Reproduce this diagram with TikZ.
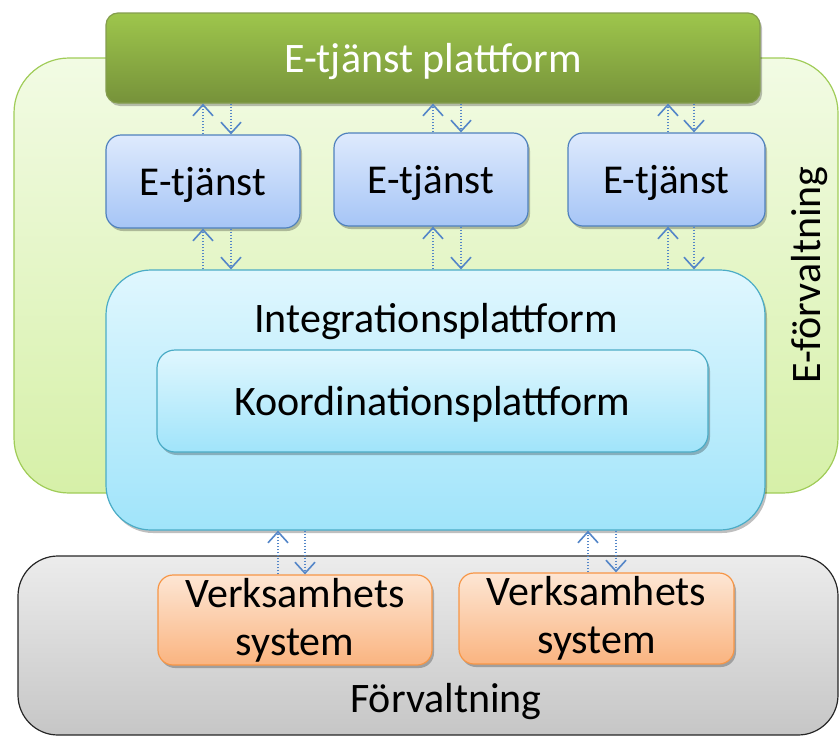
\documentclass[tikz,border=0pt]{standalone}
\usepackage{fontspec}
\setmainfont{Carlito}
\usetikzlibrary{arrows.meta,shadows}
\definecolor{gbarT}{RGB}{158,198,76}
\definecolor{gbarB}{RGB}{118,146,58}
\definecolor{goutT}{RGB}{242,251,228}
\definecolor{goutB}{RGB}{214,240,168}
\definecolor{goutD}{RGB}{160,204,88}
\definecolor{bluT}{RGB}{222,234,253}
\definecolor{bluB}{RGB}{166,197,246}
\definecolor{bluD}{RGB}{79,129,189}
\definecolor{cyaT}{RGB}{224,247,254}
\definecolor{cyaB}{RGB}{160,228,250}
\definecolor{cyaD}{RGB}{75,172,198}
\definecolor{gryT}{RGB}{236,236,236}
\definecolor{gryB}{RGB}{198,198,198}
\definecolor{oraT}{RGB}{253,230,212}
\definecolor{oraB}{RGB}{250,180,128}
\definecolor{oraD}{RGB}{247,150,70}
\definecolor{arrC}{RGB}{84,134,200}
\tikzset{
  box/.style={rectangle,inner sep=0pt,line width=1.2pt,align=center},
  shad/.style={drop shadow={shadow xshift=2pt,shadow yshift=-3pt,opacity=0.25,fill=black}},
  gbar/.style={box,rounded corners=12pt,top color=gbarT,bottom color=gbarB,draw=gbarB!90!white,text=white,shad},
  gout/.style={box,rounded corners=55pt,top color=goutT,bottom color=goutB,draw=goutD},
  etj/.style={box,rounded corners=15pt,top color=bluT,bottom color=bluB,draw=bluD,shad},
  intg/.style={box,rounded corners=45pt,top color=cyaT,bottom color=cyaB,draw=cyaD,shad},
  koor/.style={box,rounded corners=18pt,top color=cyaT,bottom color=cyaB,draw=cyaD,shad},
  forv/.style={box,rounded corners=40pt,top color=gryT,bottom color=gryB,draw=black!85},
  verk/.style={box,rounded corners=15pt,top color=oraT,bottom color=oraB,draw=oraD,shad},
  arr/.style={draw=arrC,line width=1.5pt,dash pattern=on 1.5pt off 1.5pt,-{Straight Barb[length=11pt,width=20pt,line width=1.6pt]}},
  bigtxt/.style={font=\fontsize{42}{48}\selectfont},
  midtxt/.style={font=\fontsize{41}{48}\selectfont},
  flat/.style={text depth=0pt},
}
\begin{document}
\begin{tikzpicture}[x=1pt,y=-1pt]
\useasboundingbox (0,0) rectangle (839,737);
% outer E-förvaltning
\node[gout,minimum width=824pt,minimum height=435pt] (eforv) at (426,275.5) {};
\node[rotate=90,bigtxt,flat] (eforvtxt) at (806,275) {E-förvaltning};
% Förvaltning
\node[forv,minimum width=820pt,minimum height=179pt] (forv) at (428,645.5) {};
\node[bigtxt,flat] (forvtxt) at (446,698) {Förvaltning};
% top bar
\node[gbar,minimum width=654pt,minimum height=90pt,bigtxt,flat] (top) at (433,58) {E-tjänst plattform};
% E-tjänst boxes
\node[etj,minimum width=194pt,minimum height=93pt,midtxt,flat] (e1) at (203,181.5) {E-tjänst};
\node[etj,minimum width=194pt,minimum height=93pt,midtxt,flat] (e2) at (431,179.5) {E-tjänst};
\node[etj,minimum width=197pt,minimum height=93pt,midtxt,flat] (e3) at (666.5,179.5) {E-tjänst};
% Integration
\node[intg,minimum width=659pt,minimum height=260pt] (intg) at (435.5,400) {};
\node[bigtxt,flat] (intgtxt) at (436,318) {Integrationsplattform};
\node[koor,minimum width=551pt,minimum height=102pt,bigtxt,flat] (koor) at (432.5,401) {Koordinationsplattform};
% Verksamhets system
\node[verk,minimum width=274pt,minimum height=90pt,bigtxt] (v1) at (295,620) {Verksamhets\\[0pt]system};
\node[verk,minimum width=275pt,minimum height=91pt,bigtxt] (v2) at (596.5,618.5) {Verksamhets\\[0pt]system};
% arrows top bar <-> E-tjänst
\draw[arr] (e1.north -| 203,0) -- (top.south -| 203,0);
\draw[arr] (top.south -| 231,0) -- (e1.north -| 231,0);
\draw[arr] (e2.north -| 433,0) -- (top.south -| 433,0);
\draw[arr] (top.south -| 461,0) -- (e2.north -| 461,0);
\draw[arr] (e3.north -| 668,0) -- (top.south -| 668,0);
\draw[arr] (top.south -| 694,0) -- (e3.north -| 694,0);
% arrows E-tjänst <-> Integration
\draw[arr] (intg.north -| 203,0) -- (e1.south -| 203,0);
\draw[arr] (e1.south -| 231,0) -- (intg.north -| 231,0);
\draw[arr] (intg.north -| 433,0) -- (e2.south -| 433,0);
\draw[arr] (e2.south -| 461,0) -- (intg.north -| 461,0);
\draw[arr] (intg.north -| 668,0) -- (e3.south -| 668,0);
\draw[arr] (e3.south -| 694,0) -- (intg.north -| 694,0);
% arrows Integration <-> Verksamhets
\draw[arr] (v1.north -| 278,0) -- (intg.south -| 278,0);
\draw[arr] (intg.south -| 305,0) -- (v1.north -| 305,0);
\draw[arr] (v2.north -| 588,0) -- (intg.south -| 588,0);
\draw[arr] (intg.south -| 616,0) -- (v2.north -| 616,0);
\end{tikzpicture}
\end{document}
